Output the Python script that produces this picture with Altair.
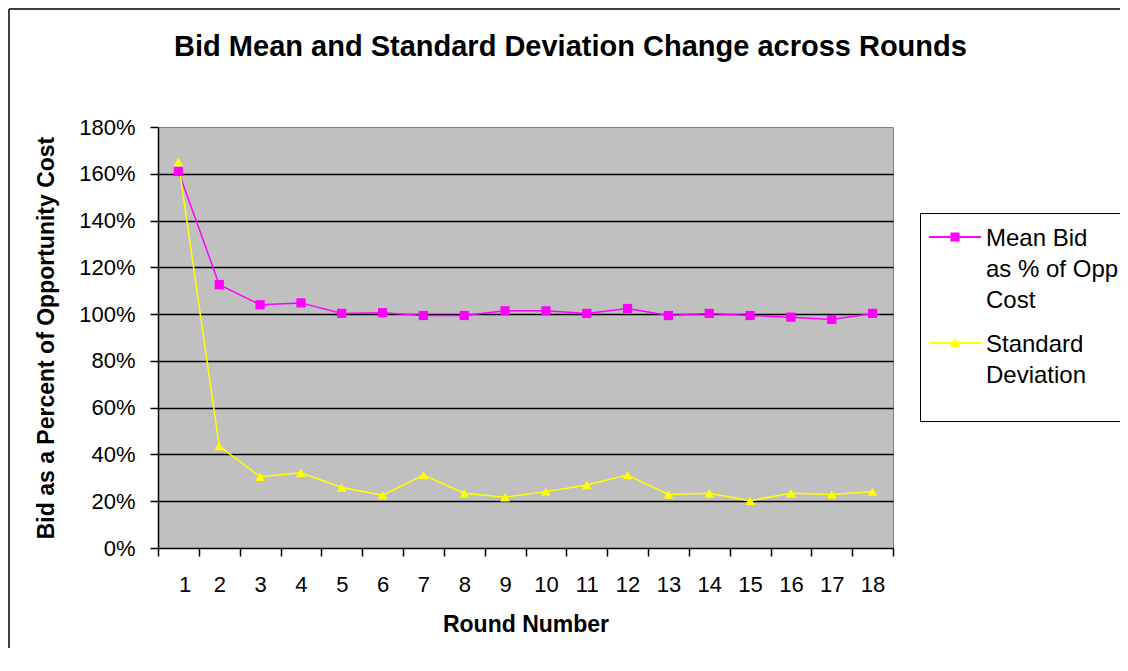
import altair as alt
import pandas as pd

rounds = list(range(1, 19))
mean_bid = [1.61, 1.126, 1.04, 1.048, 1.003, 1.006, 0.994, 0.994, 1.014,
            1.014, 1.003, 1.024, 0.994, 1.003, 0.994, 0.987, 0.977, 1.003]
std_dev = [1.65, 0.436, 0.305, 0.322, 0.259, 0.226, 0.312, 0.234, 0.217,
           0.241, 0.269, 0.312, 0.229, 0.234, 0.202, 0.234, 0.229, 0.241]
series_names = ["Mean Bid as % of Opp Cost", "Standard Deviation"]
series_colors = ["#FF00FF", "#FFFF00"]
y_ticks = [0, 0.2, 0.4, 0.6, 0.8, 1.0, 1.2, 1.4, 1.6, 1.8]
x_ticks = [r - 0.5 for r in rounds] + [18.5]

df = pd.DataFrame({
    "round": rounds * 2,
    "value": mean_bid + std_dev,
    "series": [series_names[0]] * len(rounds) + [series_names[1]] * len(rounds),
})

FONT = "Liberation Sans"
W, H = 735, 421

color_scale = alt.Scale(domain=series_names, range=series_colors)

# legend symbols in pixel units (symbolSize 4 -> scale factor 1):
# a 2px line with the series marker in its middle
LY = 10
legend_paths = [
    f"M-5,{LY - 1}L47,{LY - 1}L47,{LY + 1}L-5,{LY + 1}Z"
    f"M16.5,{LY - 4.5}L25.5,{LY - 4.5}L25.5,{LY + 4.5}L16.5,{LY + 4.5}Z",
    f"M-5,{LY - 1}L47,{LY - 1}L47,{LY + 1}L-5,{LY + 1}Z"
    f"M21,{LY - 5}L26.5,{LY + 4}L15.5,{LY + 4}Z",
]

# wrapped legend text (the legend box runs past the right edge of the chart)
NB = "\u00a0" * 5
label_expr = (
    "datum.label == 'Standard Deviation' ? ['Standard', 'Deviation', ''] "
    f": ['Mean Bid', 'as % of Opp{NB}', 'Cost']"
)

x_enc = alt.X(
    "round:Q",
    scale=alt.Scale(domain=[0.5, 18.5], nice=False, zero=False),
    axis=alt.Axis(
        values=x_ticks,
        labelExpr="datum.value < 18 ? format(datum.value + 0.5, 'd') : ''",
        labelOffset=W / 18 / 2,
        tickSize=8,
        labelPadding=18,
        grid=False,
        title="Round Number",
        titlePadding=18,
    ),
)
y_enc = alt.Y(
    "value:Q",
    scale=alt.Scale(domain=[0, 1.8], nice=False),
    axis=alt.Axis(
        values=y_ticks,
        format="%",
        tickSize=8,
        labelPadding=15,
        grid=True,
        gridColor="#000000",
        gridWidth=1.5,
        gridOpacity={"condition": {"test": "datum.value > 1.79 || datum.value < 0.01", "value": 0}, "value": 1},
        title="Bid as a Percent of Opportunity Cost",
        titlePadding=20,
    ),
)

base = alt.Chart(df)

leg = alt.Legend(
    orient="none",
    legendX=762,
    legendY=86,
    title=None,
    padding=2,
    rowPadding=8,
    fillColor="#FFFFFF",
    strokeColor="#000000",
    symbolSize=4,
    symbolStrokeWidth=0,
    symbolOpacity=1,
    labelOffset=40,
    labelFont=FONT,
    labelFontSize=24,
    labelColor="#000000",
    labelBaseline="top",
    labelLimit=800,
    labelExpr=label_expr,
)

lines = base.mark_line(strokeWidth=1.5).encode(
    x=x_enc, y=y_enc,
    color=alt.Color("series:N", scale=color_scale, legend=None),
)

mean_pts = base.transform_filter(
    alt.datum.series == series_names[0]
).mark_point(filled=True, shape="square", size=85, opacity=1).encode(
    x=x_enc, y=y_enc,
    color=alt.Color("series:N", scale=color_scale, legend=None),
)

sd_pts = base.transform_filter(
    alt.datum.series == series_names[1]
).mark_point(filled=True, shape="triangle-up", size=95, opacity=1).encode(
    x=x_enc, y=y_enc,
    color=alt.Color("series:N", scale=color_scale, legend=None),
)

# invisible layer that only carries the legend (fill + shape scales)
legend_layer = base.mark_point(filled=True, opacity=0, strokeWidth=0).encode(
    x=x_enc, y=y_enc,
    fill=alt.Fill("series:N", scale=alt.Scale(range=series_colors), legend=leg),
    shape=alt.Shape("series:N", scale=alt.Scale(range=legend_paths), legend=leg),
)

frame_df = pd.DataFrame({"f": [0]})
frame_top = alt.Chart(frame_df).mark_rule(stroke="#000000", strokeWidth=1.5).encode(
    x=alt.value(-149), x2=alt.value(1000), y=alt.value(-118),
)
frame_left = alt.Chart(frame_df).mark_rule(stroke="#000000", strokeWidth=1.5).encode(
    x=alt.value(-149), y=alt.value(-118), y2=alt.value(600),
)

chart = alt.layer(frame_top, frame_left, lines, mean_pts, sd_pts, legend_layer).properties(
    width=W,
    height=H,
    autosize=alt.AutoSizeParams(type="none"),
    padding={"left": 150, "top": 119, "right": 227, "bottom": 100},
    title=alt.TitleParams(
        text="Bid Mean and Standard Deviation Change across Rounds",
        font=FONT,
        fontSize=29,
        fontWeight="bold",
        color="#000000",
        anchor="middle",
        baseline="alphabetic",
        dx=45,
        dy=77,
        offset=0,
    ),
).configure(
    background="#FFFFFF",
    style={"guide-label": {"lineHeight": 31}},
).configure_view(
    fill="#C0C0C0", stroke="#808080", strokeWidth=1,
).configure_axis(
    domainColor="#000000",
    domainWidth=1.5,
    tickColor="#000000",
    tickWidth=1.5,
    labelColor="#000000",
    labelFont=FONT,
    labelFontSize=22,
    titleColor="#000000",
    titleFont=FONT,
    titleFontSize=23,
    titleFontWeight="bold",
)

chart.save("out.html", embed_options={"renderer": "svg", "actions": False})
